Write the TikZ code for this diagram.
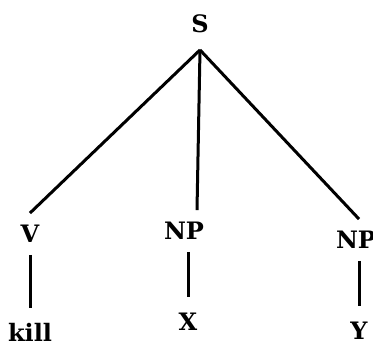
\documentclass[tikz,border=0pt]{standalone}
\usepackage{fontspec}
\setmainfont{DejaVu Serif}
\usepackage{tikz}
\begin{document}
\begin{tikzpicture}[x=1pt, y=1pt,
  cat/.style={font=\fontsize{24}{28}\selectfont\bfseries, text height=17.5pt,
              text depth=0pt, inner xsep=2pt, inner ysep=12pt},
  root/.style={cat, inner ysep=17pt},
  word/.style={cat, inner ysep=16pt},
  branch/.style={line width=3pt}]
  \useasboundingbox (0,0) rectangle (373,345);
  \node[root] (s) at (200,321) {S};
  \node[cat] (v) at (30,111) {V};
  \node[cat] (np1) at (184,114) {NP};
  \node[cat] (np2) at (356,105) {NP};
  \node[word] (kill) at (30,12) {kill};
  \node[word] (x) at (188,23) {X};
  \node[word] (y) at (359,14) {Y};
  \draw[branch] (s.south) -- (v.north);
  \draw[branch] (s.south) -- ([xshift=13pt]np1.north);
  \draw[branch] (s.south) -- ([xshift=3pt]np2.north);
  \draw[branch] (v.south) -- (kill.north);
  \draw[branch] (x.north |- np1.south) -- (x.north);
  \draw[branch] (y.north |- np2.south) -- (y.north);
\end{tikzpicture}
\end{document}
